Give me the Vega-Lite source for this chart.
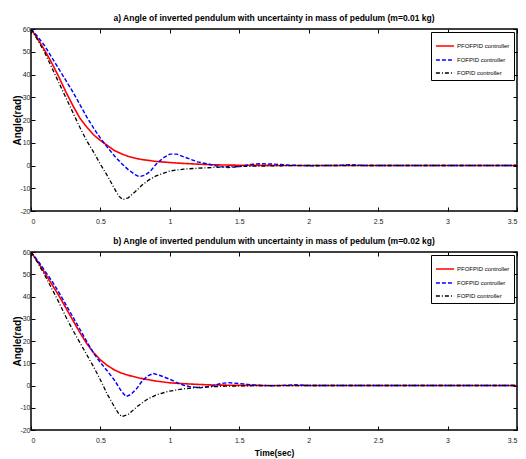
{
"$schema": "https://vega.github.io/schema/vega-lite/v6.json",
"background": "white",
"padding": {"left": 12, "right": 2, "top": 12, "bottom": 0},
"config": {
  "font": "Liberation Sans",
  "view": {"stroke": "black", "strokeWidth": 1.5},
  "axis": {"grid": false, "domain": false, "tickColor": "black", "tickSize": -4, "tickWidth": 1, "labelFont": "Liberation Sans", "labelFontSize": 7, "labelColor": "#222222", "labelPadding": 7, "titleColor": "black", "titleFont": "Liberation Sans"},
  "axisX": {"labelPadding": 10},
  "axisY": {"labelPadding": 5},
  "title": {"fontSize": 8.5, "fontWeight": "bold", "offset": 3, "color": "black", "font": "Liberation Sans"}
},
"datasets": {
  "a": [
    {"c":"PFOFPID controller","t":0,"y":60},{"c":"PFOFPID controller","t":0.05,"y":55.5},{"c":"PFOFPID controller","t":0.1,"y":50.5},{"c":"PFOFPID controller","t":0.15,"y":45},{"c":"PFOFPID controller","t":0.2,"y":39},{"c":"PFOFPID controller","t":0.25,"y":32.5},{"c":"PFOFPID controller","t":0.3,"y":26.5},{"c":"PFOFPID controller","t":0.35,"y":21},{"c":"PFOFPID controller","t":0.4,"y":17},{"c":"PFOFPID controller","t":0.45,"y":13.5},{"c":"PFOFPID controller","t":0.5,"y":11},{"c":"PFOFPID controller","t":0.55,"y":8.8},{"c":"PFOFPID controller","t":0.6,"y":6.6},{"c":"PFOFPID controller","t":0.65,"y":5.2},{"c":"PFOFPID controller","t":0.7,"y":4},{"c":"PFOFPID controller","t":0.75,"y":3.2},{"c":"PFOFPID controller","t":0.8,"y":2.6},{"c":"PFOFPID controller","t":0.9,"y":1.8},{"c":"PFOFPID controller","t":1.0,"y":1.3},{"c":"PFOFPID controller","t":1.1,"y":0.9},{"c":"PFOFPID controller","t":1.2,"y":0.6},{"c":"PFOFPID controller","t":1.3,"y":0.35},{"c":"PFOFPID controller","t":1.4,"y":0.2},{"c":"PFOFPID controller","t":1.6,"y":0.05},{"c":"PFOFPID controller","t":2,"y":0},{"c":"PFOFPID controller","t":2.5,"y":0},{"c":"PFOFPID controller","t":3,"y":0},{"c":"PFOFPID controller","t":3.5,"y":0},
    {"c":"FOFPID controller","t":0,"y":60},{"c":"FOFPID controller","t":0.05,"y":56.5},{"c":"FOFPID controller","t":0.1,"y":52.5},{"c":"FOFPID controller","t":0.15,"y":47.5},{"c":"FOFPID controller","t":0.2,"y":42.5},{"c":"FOFPID controller","t":0.25,"y":37.5},{"c":"FOFPID controller","t":0.3,"y":32.5},{"c":"FOFPID controller","t":0.35,"y":27},{"c":"FOFPID controller","t":0.4,"y":21.5},{"c":"FOFPID controller","t":0.45,"y":16.5},{"c":"FOFPID controller","t":0.5,"y":12},{"c":"FOFPID controller","t":0.55,"y":8},{"c":"FOFPID controller","t":0.6,"y":4.3},{"c":"FOFPID controller","t":0.65,"y":1},{"c":"FOFPID controller","t":0.7,"y":-1.8},{"c":"FOFPID controller","t":0.75,"y":-4},{"c":"FOFPID controller","t":0.78,"y":-4.9},{"c":"FOFPID controller","t":0.82,"y":-4.3},{"c":"FOFPID controller","t":0.86,"y":-2.5},{"c":"FOFPID controller","t":0.9,"y":0.5},{"c":"FOFPID controller","t":0.95,"y":3.2},{"c":"FOFPID controller","t":1.0,"y":5},{"c":"FOFPID controller","t":1.05,"y":5},{"c":"FOFPID controller","t":1.1,"y":3.8},{"c":"FOFPID controller","t":1.2,"y":1.6},{"c":"FOFPID controller","t":1.3,"y":0.3},{"c":"FOFPID controller","t":1.35,"y":-0.4},{"c":"FOFPID controller","t":1.42,"y":-0.9},{"c":"FOFPID controller","t":1.5,"y":-0.5},{"c":"FOFPID controller","t":1.58,"y":0.4},{"c":"FOFPID controller","t":1.65,"y":0.8},{"c":"FOFPID controller","t":1.75,"y":0.6},{"c":"FOFPID controller","t":1.85,"y":0.2},{"c":"FOFPID controller","t":2.0,"y":-0.1},{"c":"FOFPID controller","t":2.2,"y":0},{"c":"FOFPID controller","t":2.3,"y":0.3},{"c":"FOFPID controller","t":2.4,"y":0},{"c":"FOFPID controller","t":2.6,"y":0},{"c":"FOFPID controller","t":3,"y":0},{"c":"FOFPID controller","t":3.5,"y":0},
    {"c":"FOPID controller","t":0,"y":60},{"c":"FOPID controller","t":0.05,"y":55},{"c":"FOPID controller","t":0.1,"y":49.5},{"c":"FOPID controller","t":0.15,"y":43},{"c":"FOPID controller","t":0.2,"y":36.5},{"c":"FOPID controller","t":0.25,"y":30},{"c":"FOPID controller","t":0.3,"y":23.5},{"c":"FOPID controller","t":0.35,"y":17},{"c":"FOPID controller","t":0.4,"y":11},{"c":"FOPID controller","t":0.45,"y":6},{"c":"FOPID controller","t":0.5,"y":0.5},{"c":"FOPID controller","t":0.55,"y":-4.5},{"c":"FOPID controller","t":0.6,"y":-10},{"c":"FOPID controller","t":0.63,"y":-13.3},{"c":"FOPID controller","t":0.66,"y":-15},{"c":"FOPID controller","t":0.7,"y":-14.2},{"c":"FOPID controller","t":0.75,"y":-11.5},{"c":"FOPID controller","t":0.8,"y":-8.6},{"c":"FOPID controller","t":0.85,"y":-6.3},{"c":"FOPID controller","t":0.9,"y":-4.6},{"c":"FOPID controller","t":1.0,"y":-2.4},{"c":"FOPID controller","t":1.1,"y":-1.6},{"c":"FOPID controller","t":1.2,"y":-1.2},{"c":"FOPID controller","t":1.3,"y":-0.9},{"c":"FOPID controller","t":1.4,"y":-0.6},{"c":"FOPID controller","t":1.6,"y":-0.3},{"c":"FOPID controller","t":1.8,"y":-0.1},{"c":"FOPID controller","t":2,"y":0},{"c":"FOPID controller","t":3.5,"y":0}
  ],
  "b": [
    {"c":"PFOFPID controller","t":0,"y":60},{"c":"PFOFPID controller","t":0.05,"y":55.5},{"c":"PFOFPID controller","t":0.1,"y":50.5},{"c":"PFOFPID controller","t":0.15,"y":45.5},{"c":"PFOFPID controller","t":0.2,"y":40.5},{"c":"PFOFPID controller","t":0.25,"y":35},{"c":"PFOFPID controller","t":0.3,"y":29.5},{"c":"PFOFPID controller","t":0.35,"y":24},{"c":"PFOFPID controller","t":0.4,"y":19},{"c":"PFOFPID controller","t":0.45,"y":14.8},{"c":"PFOFPID controller","t":0.5,"y":11.5},{"c":"PFOFPID controller","t":0.55,"y":9},{"c":"PFOFPID controller","t":0.6,"y":7},{"c":"PFOFPID controller","t":0.65,"y":5.6},{"c":"PFOFPID controller","t":0.7,"y":4.6},{"c":"PFOFPID controller","t":0.75,"y":3.8},{"c":"PFOFPID controller","t":0.8,"y":3.1},{"c":"PFOFPID controller","t":0.9,"y":2},{"c":"PFOFPID controller","t":1.0,"y":1.2},{"c":"PFOFPID controller","t":1.1,"y":0.8},{"c":"PFOFPID controller","t":1.2,"y":0.5},{"c":"PFOFPID controller","t":1.3,"y":0.25},{"c":"PFOFPID controller","t":1.5,"y":0.05},{"c":"PFOFPID controller","t":2,"y":0},{"c":"PFOFPID controller","t":3.5,"y":0},
    {"c":"FOFPID controller","t":0,"y":60},{"c":"FOFPID controller","t":0.05,"y":56},{"c":"FOFPID controller","t":0.1,"y":51.5},{"c":"FOFPID controller","t":0.15,"y":47},{"c":"FOFPID controller","t":0.2,"y":42},{"c":"FOFPID controller","t":0.25,"y":36.5},{"c":"FOFPID controller","t":0.3,"y":31},{"c":"FOFPID controller","t":0.35,"y":25.5},{"c":"FOFPID controller","t":0.4,"y":20},{"c":"FOFPID controller","t":0.45,"y":14.6},{"c":"FOFPID controller","t":0.5,"y":10.3},{"c":"FOFPID controller","t":0.55,"y":6.5},{"c":"FOFPID controller","t":0.6,"y":2.5},{"c":"FOFPID controller","t":0.65,"y":-2.5},{"c":"FOFPID controller","t":0.685,"y":-5},{"c":"FOFPID controller","t":0.72,"y":-4},{"c":"FOFPID controller","t":0.76,"y":-1.5},{"c":"FOFPID controller","t":0.8,"y":2},{"c":"FOFPID controller","t":0.84,"y":4.3},{"c":"FOFPID controller","t":0.88,"y":5.4},{"c":"FOFPID controller","t":0.93,"y":4.5},{"c":"FOFPID controller","t":1.0,"y":2.8},{"c":"FOFPID controller","t":1.05,"y":1.3},{"c":"FOFPID controller","t":1.1,"y":0.1},{"c":"FOFPID controller","t":1.15,"y":-0.6},{"c":"FOFPID controller","t":1.22,"y":-1},{"c":"FOFPID controller","t":1.3,"y":-0.3},{"c":"FOFPID controller","t":1.36,"y":0.8},{"c":"FOFPID controller","t":1.42,"y":1.3},{"c":"FOFPID controller","t":1.5,"y":0.9},{"c":"FOFPID controller","t":1.56,"y":0.5},{"c":"FOFPID controller","t":1.65,"y":0},{"c":"FOFPID controller","t":1.75,"y":-0.1},{"c":"FOFPID controller","t":1.9,"y":0.3},{"c":"FOFPID controller","t":2.0,"y":0},{"c":"FOFPID controller","t":2.5,"y":0},{"c":"FOFPID controller","t":3,"y":0},{"c":"FOFPID controller","t":3.5,"y":0},
    {"c":"FOPID controller","t":0,"y":60},{"c":"FOPID controller","t":0.05,"y":55},{"c":"FOPID controller","t":0.1,"y":49.5},{"c":"FOPID controller","t":0.15,"y":43.5},{"c":"FOPID controller","t":0.2,"y":37.5},{"c":"FOPID controller","t":0.25,"y":31},{"c":"FOPID controller","t":0.3,"y":25},{"c":"FOPID controller","t":0.35,"y":19.5},{"c":"FOPID controller","t":0.4,"y":14},{"c":"FOPID controller","t":0.45,"y":8.5},{"c":"FOPID controller","t":0.5,"y":2.5},{"c":"FOPID controller","t":0.55,"y":-4},{"c":"FOPID controller","t":0.6,"y":-9.5},{"c":"FOPID controller","t":0.63,"y":-12.5},{"c":"FOPID controller","t":0.655,"y":-14},{"c":"FOPID controller","t":0.7,"y":-13},{"c":"FOPID controller","t":0.77,"y":-9.2},{"c":"FOPID controller","t":0.84,"y":-6.1},{"c":"FOPID controller","t":0.91,"y":-4},{"c":"FOPID controller","t":1.0,"y":-2.5},{"c":"FOPID controller","t":1.1,"y":-1.5},{"c":"FOPID controller","t":1.2,"y":-0.9},{"c":"FOPID controller","t":1.4,"y":-0.3},{"c":"FOPID controller","t":1.6,"y":-0.1},{"c":"FOPID controller","t":2,"y":0},{"c":"FOPID controller","t":3.5,"y":0}
  ]
},
"spacing": 10,
"resolve": {"scale": {"color": "independent", "strokeDash": "independent", "strokeWidth": "independent"}},
"vconcat": [
  {
    "title": "a) Angle of inverted pendulum with uncertainty in mass of pedulum (m=0.01 kg)",
    "width": 486, "height": 182,
    "data": {"name": "a"},
    "resolve": {"axis": {"x": "independent", "y": "independent"}},
    "layer": [
      {
        "mark": {"type": "line", "clip": true},
        "encoding": {
          "x": {"field": "t", "type": "quantitative", "scale": {"domain": [0, 3.5], "nice": false, "zero": false}, "axis": {"values": [0,0.5,1,1.5,2,2.5,3,3.5], "labelExpr": "'' + datum.value", "title": null}},
          "y": {"field": "y", "type": "quantitative", "scale": {"domain": [-20, 60], "nice": false}, "axis": {"values": [-20,-10,0,10,20,30,40,50,60], "labelExpr": "'' + datum.value", "title": "Angle(rad)", "titleFontSize": 10, "titleFontWeight": "bold", "titlePadding": -3}},
          "color": {"field": "c", "type": "nominal", "scale": {"domain": ["PFOFPID controller","FOFPID controller","FOPID controller"], "range": ["#ff0000","#0000ff","#000000"]},
            "legend": {"title": null, "orient": "top-right", "offset": 3, "strokeColor": "black", "fillColor": "white", "padding": 4, "labelFontSize": 6, "labelColor": "black", "labelFont": "Liberation Sans", "symbolType": "stroke", "symbolSize": 330, "symbolStrokeWidth": 1.5, "rowPadding": -4, "labelOffset": 2}},
          "strokeDash": {"field": "c", "type": "nominal", "scale": {"domain": ["PFOFPID controller","FOFPID controller","FOPID controller"], "range": [[1,0],[4,2],[4,2,1,2]]},
            "legend": {"title": null, "orient": "top-right", "offset": 3, "strokeColor": "black", "fillColor": "white", "padding": 4, "labelFontSize": 6, "labelColor": "black", "labelFont": "Liberation Sans", "symbolType": "stroke", "symbolSize": 330, "symbolStrokeWidth": 1.5, "rowPadding": -4, "labelOffset": 2}},
          "strokeWidth": {"field": "c", "type": "nominal", "scale": {"domain": ["PFOFPID controller","FOFPID controller","FOPID controller"], "range": [1.6,1.3,1.1]}, "legend": null},
          "order": {"field": "t"}
        }
      },
      {
        "mark": {"type": "line", "opacity": 0},
        "encoding": {
          "x": {"field": "t", "type": "quantitative", "axis": {"orient": "top", "values": [0,0.5,1,1.5,2,2.5,3,3.5], "labels": false, "title": null}},
          "y": {"field": "y", "type": "quantitative", "axis": {"orient": "right", "values": [-20,-10,0,10,20,30,40,50,60], "labels": false, "title": null}}
        }
      }
    ]
  },
  {
    "title": "b) Angle of inverted pendulum with uncertainty in mass of pedulum (m=0.02 kg)",
    "width": 486, "height": 178,
    "data": {"name": "b"},
    "resolve": {"axis": {"x": "independent", "y": "independent"}},
    "layer": [
      {
        "mark": {"type": "line", "clip": true},
        "encoding": {
          "x": {"field": "t", "type": "quantitative", "scale": {"domain": [0, 3.5], "nice": false, "zero": false}, "axis": {"values": [0,0.5,1,1.5,2,2.5,3,3.5], "labelExpr": "'' + datum.value", "title": "Time(sec)", "titleFontSize": 8.5, "titleFontWeight": "bold", "titlePadding": 5}},
          "y": {"field": "y", "type": "quantitative", "scale": {"domain": [-20, 60], "nice": false}, "axis": {"values": [-20,-10,0,10,20,30,40,50,60], "labelExpr": "'' + datum.value", "title": "Angle(rad)", "titleFontSize": 10, "titleFontWeight": "bold", "titlePadding": -3}},
          "color": {"field": "c", "type": "nominal", "scale": {"domain": ["PFOFPID controller","FOFPID controller","FOPID controller"], "range": ["#ff0000","#0000ff","#000000"]},
            "legend": {"title": null, "orient": "top-right", "offset": 3, "strokeColor": "black", "fillColor": "white", "padding": 4, "labelFontSize": 6, "labelColor": "black", "labelFont": "Liberation Sans", "symbolType": "stroke", "symbolSize": 330, "symbolStrokeWidth": 1.5, "rowPadding": -4, "labelOffset": 2}},
          "strokeDash": {"field": "c", "type": "nominal", "scale": {"domain": ["PFOFPID controller","FOFPID controller","FOPID controller"], "range": [[1,0],[4,2],[4,2,1,2]]},
            "legend": {"title": null, "orient": "top-right", "offset": 3, "strokeColor": "black", "fillColor": "white", "padding": 4, "labelFontSize": 6, "labelColor": "black", "labelFont": "Liberation Sans", "symbolType": "stroke", "symbolSize": 330, "symbolStrokeWidth": 1.5, "rowPadding": -4, "labelOffset": 2}},
          "strokeWidth": {"field": "c", "type": "nominal", "scale": {"domain": ["PFOFPID controller","FOFPID controller","FOPID controller"], "range": [1.6,1.3,1.1]}, "legend": null},
          "order": {"field": "t"}
        }
      },
      {
        "mark": {"type": "line", "opacity": 0},
        "encoding": {
          "x": {"field": "t", "type": "quantitative", "axis": {"orient": "top", "values": [0,0.5,1,1.5,2,2.5,3,3.5], "labels": false, "title": null}},
          "y": {"field": "y", "type": "quantitative", "axis": {"orient": "right", "values": [-20,-10,0,10,20,30,40,50,60], "labels": false, "title": null}}
        }
      }
    ]
  }
]
}
